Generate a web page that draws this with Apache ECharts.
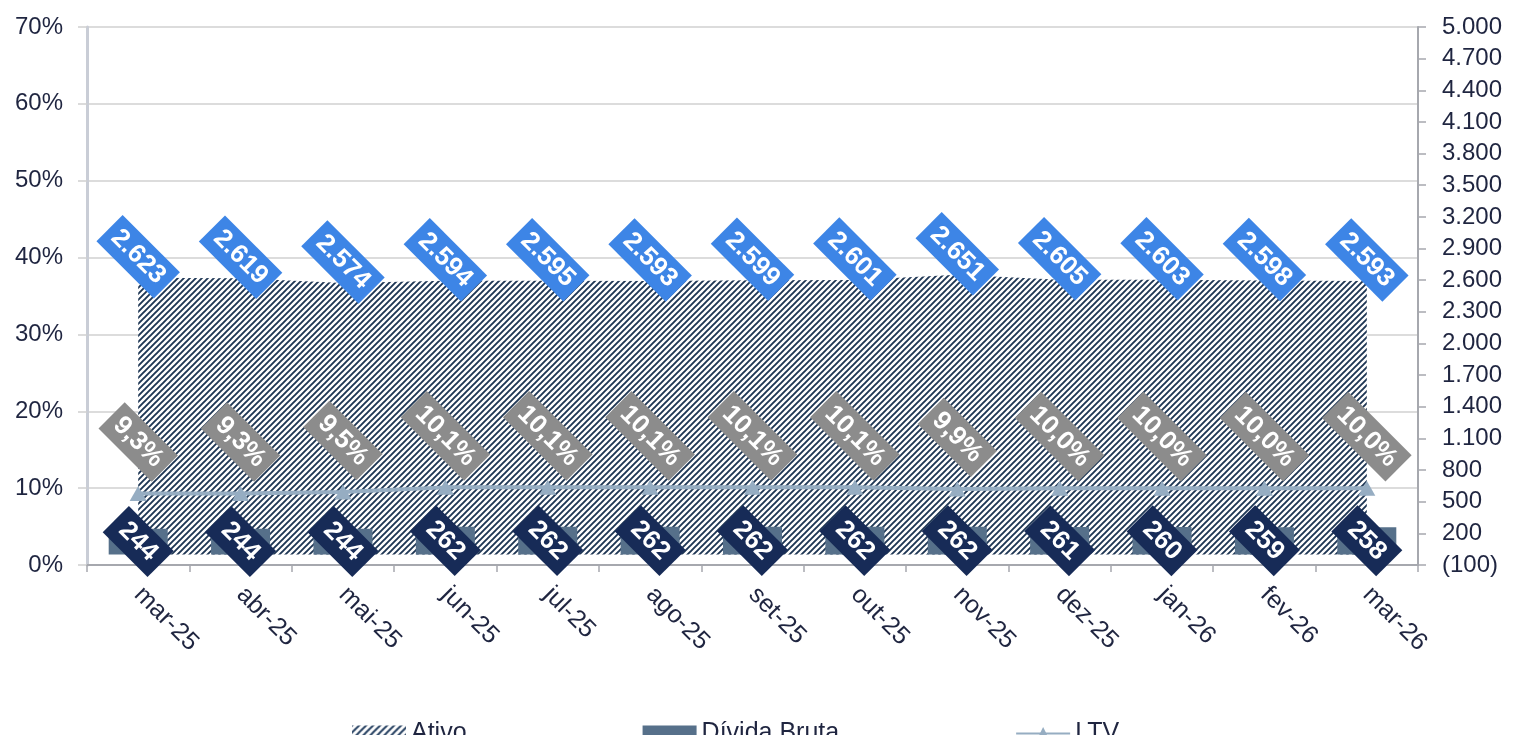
<!DOCTYPE html>
<html>
<head>
<meta charset="utf-8">
<script src="https://cdn.jsdelivr.net/npm/echarts@6/dist/echarts.min.js"></script>
<style>
  html, body { margin: 0; padding: 0; background: #ffffff; }
  #chart { width: 1518px; height: 735px; }
</style>
</head>
<body>
<div id="chart"></div>
<script>
// Monthly series
const months = ['mar-25', 'abr-25', 'mai-25', 'jun-25', 'jul-25', 'ago-25', 'set-25',
                'out-25', 'nov-25', 'dez-25', 'jan-26', 'fev-26', 'mar-26'];
const ativo = [2623, 2619, 2574, 2594, 2595, 2593, 2599, 2601, 2651, 2605, 2603, 2598, 2593];
const dividaBruta = [244, 244, 244, 262, 262, 262, 262, 262, 262, 261, 260, 259, 258];
const ltv = [9.3, 9.3, 9.5, 10.1, 10.1, 10.1, 10.1, 10.1, 9.9, 10.0, 10.0, 10.0, 10.0];
const rightTicks = [-100, 200, 500, 800, 1100, 1400, 1700, 2000, 2300, 2600, 2900,
                    3200, 3500, 3800, 4100, 4400, 4700, 5000];

const FONT = '"Liberation Sans", Arial, sans-serif';
const TEXT = '#1f2540';

// Diagonal hatch fill for the asset area
function hatch(size, color, width, bg) {
  const c = document.createElement('canvas');
  c.width = size; c.height = size;
  const g = c.getContext('2d');
  if (bg) { g.fillStyle = bg; g.fillRect(0, 0, size, size); }
  g.strokeStyle = color;
  g.lineWidth = width;
  g.beginPath();
  g.moveTo(-1, size + 1); g.lineTo(size + 1, -1);
  g.moveTo(-1, 1); g.lineTo(1, -1);
  g.moveTo(size - 1, size + 1); g.lineTo(size + 1, size - 1);
  g.stroke();
  return { image: c, repeat: 'repeat' };
}

function thousands(v) {
  const s = Math.abs(Math.round(v)).toString().replace(/\B(?=(\d{3})+(?!\d))/g, '.');
  return v < 0 ? '(' + s + ')' : s;
}

const chart = echarts.init(document.getElementById('chart'), null, { renderer: 'canvas' });

const boxLabel = (bg, fmt, extra) => Object.assign({
  show: true,
  rotate: -45,
  align: 'center',
  verticalAlign: 'middle',
  color: '#ffffff',
  fontFamily: FONT,
  fontWeight: 'bold',
  fontSize: 26,
  lineHeight: 27,
  backgroundColor: bg,
  padding: [5, 8, 5, 8],
  formatter: fmt
}, extra);

chart.setOption({
  animation: false,
  backgroundColor: '#ffffff',
  grid: { left: 87, right: 100, top: 27, bottom: 170, containLabel: false },
  legend: {
    left: 347,
    top: 716,
    itemWidth: 54,
    itemHeight: 16,
    itemGap: 176,
    textStyle: { fontFamily: FONT, fontSize: 25, color: TEXT },
    data: [
      { name: 'Ativo', icon: 'rect', itemStyle: { color: hatch(7, '#2c4666', 2, '#ffffff') } },
      { name: 'Dívida Bruta', icon: 'rect' },
      { name: 'LTV' }
    ]
  },
  xAxis: {
    type: 'category',
    data: months,
    boundaryGap: true,
    axisLine: { show: true, lineStyle: { color: '#a6a8ae', width: 2 } },
    axisTick: { show: true, length: 7, lineStyle: { color: '#a6a8ae', width: 1.5 } },
    axisLabel: {
      rotate: -45,
      margin: 26,
      interval: 0,
      fontFamily: FONT,
      fontSize: 25,
      color: TEXT
    },
    splitLine: { show: false }
  },
  yAxis: [
    {
      type: 'value',
      min: 0,
      max: 70,
      interval: 10,
      position: 'left',
      axisLine: { show: true, lineStyle: { color: '#c9cdd6', width: 3 } },
      axisTick: { show: true, length: 9, lineStyle: { color: '#d0d0d0', width: 1.5 } },
      axisLabel: {
        formatter: '{value}%',
        margin: 24,
        fontFamily: FONT,
        fontSize: 24,
        color: TEXT
      },
      splitLine: { show: true, lineStyle: { color: '#d0d0d0', width: 1.5 } }
    },
    {
      type: 'value',
      min: -100,
      max: 5000,
      position: 'right',
      axisLine: { show: true, lineStyle: { color: '#a6a8ae', width: 2 } },
      axisTick: { show: true, length: 8, customValues: rightTicks, lineStyle: { color: '#a6a8ae', width: 1.5 } },
      axisLabel: {
        customValues: rightTicks,
        formatter: thousands,
        margin: 24,
        fontFamily: FONT,
        fontSize: 24,
        color: TEXT
      },
      splitLine: { show: false }
    }
  ],
  series: [
    {
      name: 'Ativo',
      type: 'line',
      yAxisIndex: 1,
      data: ativo,
      z: 1,
      symbol: 'circle',
      symbolSize: 2,
      showSymbol: true,
      showAllSymbol: true,
      lineStyle: { width: 0 },
      itemStyle: { color: 'rgba(0,0,0,0)' },
      areaStyle: { color: hatch(6, '#1e3654', 1.9, '#ffffff'), opacity: 1, origin: 0 },
      label: boxLabel('#3d85e6', p => thousands(p.value), { position: 'top', distance: 20 })
    },
    {
      name: 'Dívida Bruta',
      type: 'bar',
      yAxisIndex: 1,
      data: dividaBruta,
      z: 3,
      barWidth: 59,
      itemStyle: { color: '#56708a' },
      label: boxLabel('#172b57', p => thousands(p.value), { position: 'inside', padding: [5, 10, 5, 10] })
    },
    {
      name: 'LTV',
      type: 'line',
      yAxisIndex: 0,
      data: ltv,
      z: 4,
      symbol: 'triangle',
      symbolSize: [17, 15],
      showAllSymbol: true,
      lineStyle: { color: '#96adc2', width: 4 },
      itemStyle: { color: '#96adc2' },
      label: boxLabel('#8c8c8c', p => p.value.toFixed(1).replace('.', ',') + '%', { position: 'top', distance: 44 })
    }
  ]
});
</script>
</body>
</html>
